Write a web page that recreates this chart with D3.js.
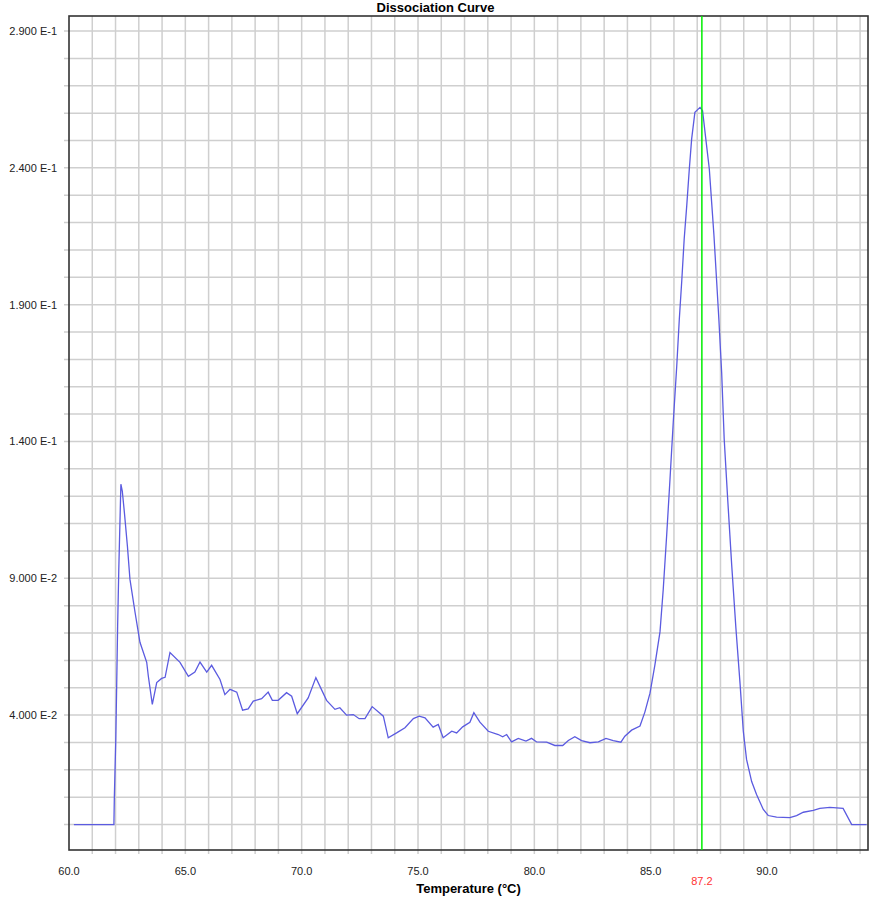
<!DOCTYPE html>
<html>
<head>
<meta charset="utf-8">
<script src="https://cdn.jsdelivr.net/npm/d3@7"></script>
<style>
  body { margin: 0; background: #fff; }
  svg { display: block; font-family: "Liberation Sans", Arial, sans-serif; }
  .tick-label { font-size: 11px; fill: #222; }
</style>
</head>
<body>
<div id="chart"></div>
<script>
// temperature (°C) and derivative reading
const temps = [
  60.21, 61.93, 61.95, 62.01, 62.05, 62.09, 62.14, 62.23, 62.29, 62.38,
  62.51, 62.62, 62.84, 63.05, 63.34, 63.41, 63.58, 63.77, 63.98, 64.13,
  64.34, 64.77, 65.13, 65.41, 65.63, 65.92, 66.13, 66.49, 66.70, 66.92,
  67.21, 67.46, 67.70, 67.92, 68.28, 68.56, 68.74, 68.99, 69.35, 69.57,
  69.81, 70.28, 70.61, 71.07, 71.43, 71.64, 71.93, 72.22, 72.47, 72.72,
  73.03, 73.51, 73.72, 74.08, 74.44, 74.80, 75.05, 75.30, 75.65, 75.87,
  76.08, 76.45, 76.66, 76.92, 77.23, 77.40, 77.66, 78.02, 78.45, 78.64,
  78.81, 79.02, 79.31, 79.64, 79.88, 80.10, 80.53, 80.88, 81.22, 81.46,
  81.74, 82.03, 82.39, 82.75, 83.08, 83.39, 83.72, 83.89, 84.18, 84.54,
  84.75, 84.97, 85.18, 85.40, 85.54, 85.69, 85.83, 85.97, 86.12, 86.23,
  86.34, 86.44, 86.55, 86.66, 86.76, 86.90, 87.12, 87.23, 87.37, 87.52,
  87.63, 87.72, 87.83, 87.93, 88.05, 88.16, 88.31, 88.48, 88.66, 88.84,
  88.98, 89.12, 89.34, 89.55, 89.84, 90.05, 90.41, 90.98, 91.27, 91.56,
  91.99, 92.27, 92.70, 92.99, 93.27, 93.64, 94.28
]
const values = [
  0, 0, 0.0104, 0.0307, 0.0512, 0.0725, 0.0933, 0.1244, 0.1219, 0.1141,
  0.1018, 0.0896, 0.0775, 0.0666, 0.0593, 0.0542, 0.0439, 0.0519, 0.0534, 0.0538,
  0.0629, 0.0593, 0.0542, 0.0557, 0.0594, 0.0557, 0.0582, 0.0530, 0.0475, 0.0494,
  0.0484, 0.0418, 0.0423, 0.0451, 0.0460, 0.0484, 0.0454, 0.0454, 0.0482, 0.0469,
  0.0405, 0.0463, 0.0537, 0.0454, 0.0421, 0.0427, 0.0400, 0.0402, 0.0387, 0.0387,
  0.0431, 0.0396, 0.0317, 0.0335, 0.0354, 0.0387, 0.0396, 0.0390, 0.0356, 0.0366,
  0.0317, 0.0341, 0.0335, 0.0357, 0.0374, 0.0409, 0.0374, 0.0341, 0.0329, 0.0321,
  0.0329, 0.0302, 0.0315, 0.0305, 0.0315, 0.0302, 0.0301, 0.0289, 0.0289, 0.0307,
  0.0321, 0.0307, 0.0299, 0.0302, 0.0315, 0.0307, 0.0301, 0.0323, 0.0345, 0.0360,
  0.0411, 0.0480, 0.0583, 0.0704, 0.0860, 0.1061, 0.1262, 0.1470, 0.1676, 0.1847,
  0.1993, 0.2140, 0.2262, 0.2396, 0.2505, 0.2603, 0.2621, 0.2609, 0.2505, 0.2396,
  0.2262, 0.2152, 0.1993, 0.1847, 0.1653, 0.1408, 0.1189, 0.0951, 0.0721, 0.0516,
  0.0342, 0.0238, 0.0157, 0.0110, 0.0055, 0.0033, 0.0027, 0.0025, 0.0033, 0.0045,
  0.0052, 0.0059, 0.0063, 0.0061, 0.0059, 0, 0
]

const xLabelTicks = [60, 65, 70, 75, 80, 85, 90]
const yLabelTicks = [0.04, 0.09, 0.14, 0.19, 0.24, 0.29]
const meltTemp = 87.2

const width = 871, height = 900
const plot = { left: 69, top: 16, right: 868, bottom: 850 }

const x = d3.scaleLinear().domain([60, 94.34]).range([plot.left, plot.right])
const y = d3.scaleLinear().domain([-0.0093, 0.2955]).range([plot.bottom, plot.top])

const svg = d3.select('#chart').append('svg')
  .attr('width', width).attr('height', height)

// grid
const xGrid = d3.range(61, 95, 1)
const yGrid = d3.range(0, 0.295, 0.01)

svg.append('g')
  .selectAll('line').data(xGrid).join('line')
  .attr('x1', d => x(d)).attr('x2', d => x(d))
  .attr('y1', plot.top).attr('y2', plot.bottom + 4)
  .attr('stroke', '#cfcfcf').attr('stroke-width', 1.5)

svg.append('g')
  .selectAll('line').data(yGrid).join('line')
  .attr('x1', plot.left - 5).attr('x2', plot.right)
  .attr('y1', d => y(d)).attr('y2', d => y(d))
  .attr('stroke', '#cfcfcf').attr('stroke-width', 1.5)

// plot frame
svg.append('rect')
  .attr('x', plot.left).attr('y', plot.top)
  .attr('width', plot.right - plot.left).attr('height', plot.bottom - plot.top)
  .attr('fill', 'none').attr('stroke', '#333').attr('stroke-width', 1.6)

// tick labels
const fmt = v => {
  const e = Math.floor(Math.log10(v) + 1e-9)
  return (v / Math.pow(10, e)).toFixed(3) + ' E' + e
}

svg.append('g')
  .selectAll('text').data(yLabelTicks).join('text')
  .attr('class', 'tick-label')
  .attr('x', plot.left - 12).attr('y', d => y(d) + 4)
  .attr('text-anchor', 'end')
  .text(fmt)

svg.append('g')
  .selectAll('text').data(xLabelTicks).join('text')
  .attr('class', 'tick-label')
  .attr('x', d => x(d)).attr('y', 875)
  .attr('text-anchor', 'middle')
  .text(d => d.toFixed(1))

// curve
const line = d3.line()
  .x((d, i) => x(temps[i]))
  .y(d => y(d))

svg.append('path')
  .datum(values)
  .attr('d', line)
  .attr('fill', 'none')
  .attr('stroke', '#5b5be0')
  .attr('stroke-width', 1.3)

// melt temperature marker
svg.append('line')
  .attr('x1', x(meltTemp)).attr('x2', x(meltTemp))
  .attr('y1', plot.top).attr('y2', plot.bottom)
  .attr('stroke', '#00ee00').attr('stroke-width', 1.5)

svg.append('text')
  .attr('x', x(meltTemp)).attr('y', 885)
  .attr('text-anchor', 'middle')
  .style('font-size', '11px').attr('fill', '#ff3333')
  .text(meltTemp.toFixed(1))

// titles
svg.append('text')
  .attr('x', width / 2).attr('y', 12)
  .attr('text-anchor', 'middle')
  .style('font-size', '13px').style('font-weight', 'bold')
  .text('Dissociation Curve')

svg.append('text')
  .attr('x', (plot.left + plot.right) / 2).attr('y', 893)
  .attr('text-anchor', 'middle')
  .style('font-size', '13px').style('font-weight', 'bold')
  .text('Temperature (°C)')
</script>
</body>
</html>
